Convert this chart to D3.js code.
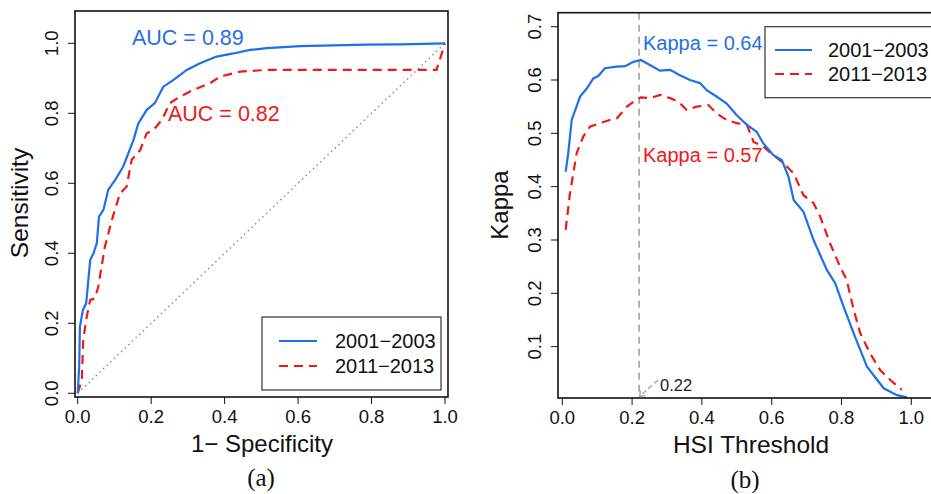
<!DOCTYPE html>
<html>
<head>
<meta charset="utf-8">
<script src="https://cdn.jsdelivr.net/npm/d3@7"></script>
<style>
  body { margin: 0; background: #fff; }
  svg { display: block; }
  text { font-family: "Liberation Sans", Arial, sans-serif; }
</style>
</head>
<body>
<script>
// ROC curves, panel (a): [1 - specificity, sensitivity]
const roc2001 = [
  [0, 0], [0.004, 0.076], [0.006, 0.19], [0.014, 0.238], [0.023, 0.257], [0.029, 0.324],
  [0.034, 0.381], [0.043, 0.40], [0.052, 0.429], [0.058, 0.505], [0.070, 0.524],
  [0.083, 0.581], [0.102, 0.61], [0.124, 0.648], [0.138, 0.686], [0.152, 0.724],
  [0.165, 0.771], [0.188, 0.81], [0.21, 0.829], [0.233, 0.876], [0.26, 0.895],
  [0.297, 0.924], [0.333, 0.943], [0.378, 0.962], [0.424, 0.971], [0.469, 0.981],
  [0.515, 0.986], [0.605, 0.992], [0.696, 0.994], [0.787, 0.996], [0.877, 0.997], [1, 1]
];
const roc2011 = [
  [0, 0], [0.011, 0.038], [0.015, 0.152], [0.023, 0.21], [0.034, 0.267], [0.047, 0.271],
  [0.056, 0.305], [0.065, 0.362], [0.074, 0.419], [0.093, 0.495], [0.115, 0.571],
  [0.133, 0.59], [0.147, 0.667], [0.17, 0.695], [0.188, 0.743], [0.206, 0.752],
  [0.229, 0.781], [0.251, 0.829], [0.279, 0.848], [0.315, 0.867], [0.36, 0.886],
  [0.388, 0.905], [0.442, 0.919], [0.515, 0.924], [0.696, 0.924], [0.977, 0.924], [1, 1]
];

// Kappa vs HSI threshold, panel (b): [threshold, kappa]
const kappa2001 = [
  [0.0096, 0.428], [0.017, 0.4625], [0.027, 0.525], [0.051, 0.569], [0.07, 0.584],
  [0.089, 0.603], [0.103, 0.6075], [0.122, 0.622], [0.156, 0.625], [0.18, 0.626],
  [0.204, 0.634], [0.225, 0.6375], [0.251, 0.628], [0.28, 0.6175], [0.309, 0.619],
  [0.337, 0.609], [0.366, 0.6], [0.395, 0.594], [0.414, 0.581], [0.442, 0.569],
  [0.471, 0.556], [0.5, 0.534], [0.529, 0.516], [0.557, 0.503], [0.576, 0.481],
  [0.605, 0.459], [0.629, 0.45], [0.648, 0.419], [0.663, 0.375], [0.691, 0.353],
  [0.72, 0.3], [0.758, 0.244], [0.782, 0.219], [0.806, 0.175], [0.835, 0.125],
  [0.873, 0.0625], [0.921, 0.022], [0.959, 0.009], [0.988, 0.005]
];
const kappa2011 = [
  [0.0096, 0.319], [0.022, 0.3875], [0.041, 0.4625], [0.06, 0.494], [0.079, 0.5125],
  [0.108, 0.519], [0.136, 0.525], [0.156, 0.528], [0.185, 0.55], [0.204, 0.559],
  [0.225, 0.5675], [0.251, 0.566], [0.28, 0.572], [0.309, 0.566], [0.333, 0.559],
  [0.356, 0.544], [0.385, 0.55], [0.419, 0.553], [0.442, 0.5375], [0.471, 0.525],
  [0.5, 0.519], [0.529, 0.516], [0.548, 0.484], [0.576, 0.475], [0.605, 0.459],
  [0.634, 0.444], [0.663, 0.425], [0.691, 0.384], [0.72, 0.369], [0.739, 0.344],
  [0.767, 0.294], [0.796, 0.25], [0.815, 0.225], [0.835, 0.169], [0.854, 0.125],
  [0.882, 0.0875], [0.911, 0.056], [0.94, 0.0375], [0.973, 0.019]
];

const seriesNames = ["2001\u22122003", "2011\u22122013"];
const aucValues = [0.89, 0.82];
const kappaMax = [0.64, 0.57];
const bestThreshold = 0.22;
const rocTicks = [0, 0.2, 0.4, 0.6, 0.8, 1.0];
const kappaXTicks = [0, 0.2, 0.4, 0.6, 0.8, 1.0];
const kappaYTicks = [0.1, 0.2, 0.3, 0.4, 0.5, 0.6, 0.7];

const BLUE = "#1f6fe8", RED = "#f01818";

const width = 931, height = 494;
const svg = d3.select("body").append("svg")
  .attr("width", width).attr("height", height);

function drawBox(g, x0, x1, y0, y1) {
  g.append("rect")
    .attr("x", x0).attr("y", y1)
    .attr("width", x1 - x0).attr("height", y0 - y1)
    .attr("fill", "none").attr("stroke", "#111").attr("stroke-width", 1.6);
}

function xAxis(g, scale, ticks, y) {
  const t = g.append("g");
  ticks.forEach(v => {
    t.append("line").attr("x1", scale(v)).attr("x2", scale(v))
      .attr("y1", y).attr("y2", y + 7).attr("stroke", "#111").attr("stroke-width", 1);
    t.append("text").attr("x", scale(v)).attr("y", y + 26)
      .attr("text-anchor", "middle").attr("font-size", 18.5).attr("fill", "#111")
      .text(d3.format(".1f")(v));
  });
}

function yAxis(g, scale, ticks, x) {
  const t = g.append("g");
  ticks.forEach(v => {
    t.append("line").attr("x1", x).attr("x2", x - 7)
      .attr("y1", scale(v)).attr("y2", scale(v)).attr("stroke", "#111").attr("stroke-width", 1);
    t.append("text")
      .attr("transform", `translate(${x - 17},${scale(v)}) rotate(-90)`)
      .attr("text-anchor", "middle").attr("font-size", 18.5).attr("fill", "#111")
      .text(d3.format(".1f")(v));
  });
}

function legend(g, x, y, w, h) {
  g.append("rect").attr("x", x).attr("y", y).attr("width", w).attr("height", h)
    .attr("fill", "#fff").attr("stroke", "#333").attr("stroke-width", 1.2);
}

// ---------- panel (a) ----------
const ga = svg.append("g");
const xa = d3.scaleLinear().domain([-0.0074, 1.0082]).range([75, 448]);
const ya = d3.scaleLinear().domain([-0.0106, 1.0923]).range([397, 11]);

ga.append("line")
  .attr("x1", xa(0)).attr("y1", ya(0)).attr("x2", xa(1)).attr("y2", ya(1))
  .attr("stroke", "#888").attr("stroke-width", 1.4).attr("stroke-dasharray", "1.5,3.5");

const lineA = d3.line().x(d => xa(d[0])).y(d => ya(d[1]));
ga.append("path").datum(roc2011).attr("d", lineA)
  .attr("fill", "none").attr("stroke", RED).attr("stroke-width", 2.2).attr("stroke-dasharray", "9,6");
ga.append("path").datum(roc2001).attr("d", lineA)
  .attr("fill", "none").attr("stroke", BLUE).attr("stroke-width", 2.2);

drawBox(ga, 75, 448, 397, 11);
xAxis(ga, xa, rocTicks, 397);
yAxis(ga, ya, rocTicks, 75);

ga.append("text").attr("x", 132).attr("y", 45).attr("font-size", 21.5).attr("fill", BLUE)
  .text("AUC = " + aucValues[0].toFixed(2));
ga.append("text").attr("x", 168).attr("y", 121).attr("font-size", 21.5).attr("fill", RED)
  .text("AUC = " + aucValues[1].toFixed(2));

legend(ga, 262, 317, 179, 73);
[[BLUE, null, 341], [RED, "9,6", 366]].forEach((s, i) => {
  ga.append("line").attr("x1", 279).attr("x2", 317).attr("y1", s[2]).attr("y2", s[2])
    .attr("stroke", s[0]).attr("stroke-width", 2.2).attr("stroke-dasharray", s[1]);
  ga.append("text").attr("x", 335).attr("y", s[2] + 7).attr("font-size", 20).attr("fill", "#111")
    .text(seriesNames[i]);
});

ga.append("text").attr("x", 262).attr("y", 452).attr("text-anchor", "middle")
  .attr("font-size", 24).attr("fill", "#111").text("1\u2212 Specificity");
ga.append("text").attr("transform", "translate(28,203) rotate(-90)").attr("text-anchor", "middle")
  .attr("font-size", 24.5).attr("fill", "#111").text("Sensitivity");
ga.append("text").attr("x", 261).attr("y", 486).attr("text-anchor", "middle")
  .attr("font-size", 25).attr("fill", "#111").style("font-family", "'Liberation Serif', serif").text("(a)");

// ---------- panel (b) ----------
const gb = svg.append("g");
const xb = d3.scaleLinear().domain([-0.0123, 1.0823]).range([558, 940]);
const yb = d3.scaleLinear().domain([0.00375, 0.7262]).range([398, 12.7]);

gb.append("line")
  .attr("x1", xb(bestThreshold)).attr("x2", xb(bestThreshold))
  .attr("y1", yb.range()[1]).attr("y2", yb.range()[0])
  .attr("stroke", "#aaa").attr("stroke-width", 1.8).attr("stroke-dasharray", "7,5");

const lineB = d3.line().x(d => xb(d[0])).y(d => yb(d[1]));
gb.append("path").datum(kappa2011).attr("d", lineB)
  .attr("fill", "none").attr("stroke", RED).attr("stroke-width", 2.2).attr("stroke-dasharray", "9,6");
gb.append("path").datum(kappa2001).attr("d", lineB)
  .attr("fill", "none").attr("stroke", BLUE).attr("stroke-width", 2.2);

drawBox(gb, 558, 940, 398, 12.7);
xAxis(gb, xb, kappaXTicks, 398);
yAxis(gb, yb, kappaYTicks, 558);

// threshold arrow
const ax0 = xb(bestThreshold), ay0 = 397;
gb.append("line").attr("x1", ax0 + 19).attr("y1", 380).attr("x2", ax0 + 1).attr("y2", ay0 - 1)
  .attr("stroke", "#aaa").attr("stroke-width", 1.5).attr("stroke-dasharray", "5,3");
gb.append("path")
  .attr("d", `M${ax0 + 0.5},${ay0 - 0.5} l1,-6 M${ax0 + 0.5},${ay0 - 0.5} l6,-1`)
  .attr("stroke", "#aaa").attr("stroke-width", 1.5).attr("fill", "none");
gb.append("text").attr("x", ax0 + 21).attr("y", 391).attr("font-size", 16.5).attr("fill", "#222")
  .text(bestThreshold.toFixed(2));

gb.append("text").attr("x", 643).attr("y", 50).attr("font-size", 20).attr("fill", BLUE)
  .text("Kappa = " + kappaMax[0].toFixed(2));
gb.append("text").attr("x", 643).attr("y", 162).attr("font-size", 20).attr("fill", RED)
  .text("Kappa = " + kappaMax[1].toFixed(2));

legend(gb, 765, 26.7, 180, 71);
[[BLUE, null, 50], [RED, "9,6", 74]].forEach((s, i) => {
  gb.append("line").attr("x1", 775).attr("x2", 812).attr("y1", s[2]).attr("y2", s[2])
    .attr("stroke", s[0]).attr("stroke-width", 2.2).attr("stroke-dasharray", s[1]);
  gb.append("text").attr("x", 828).attr("y", s[2] + 7).attr("font-size", 20).attr("fill", "#111")
    .text(seriesNames[i]);
});

gb.append("text").attr("x", 751).attr("y", 453).attr("text-anchor", "middle")
  .attr("font-size", 24.5).attr("fill", "#111").text("HSI Threshold");
gb.append("text").attr("transform", "translate(508,205) rotate(-90)").attr("text-anchor", "middle")
  .attr("font-size", 24).attr("fill", "#111").text("Kappa");
gb.append("text").attr("x", 745).attr("y", 488).attr("text-anchor", "middle")
  .attr("font-size", 25).attr("fill", "#111").style("font-family", "'Liberation Serif', serif").text("(b)");
</script>
</body>
</html>
